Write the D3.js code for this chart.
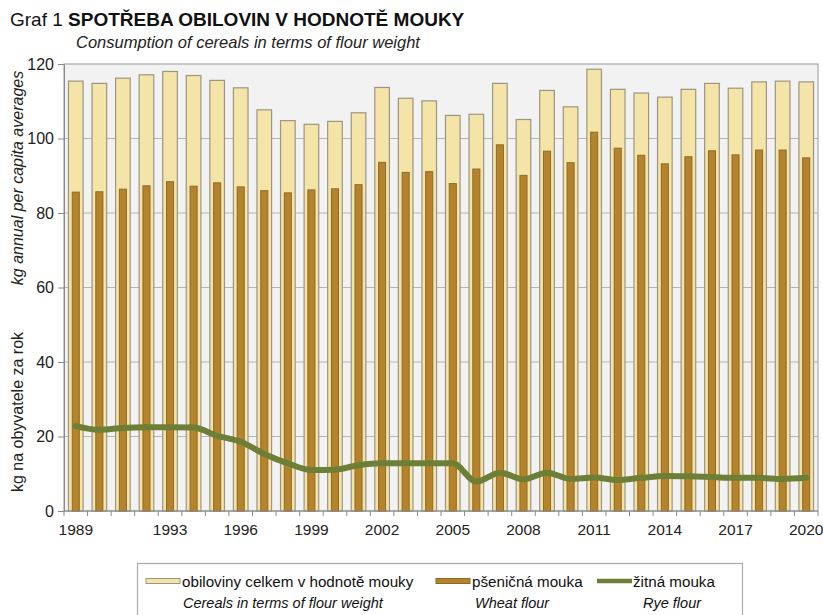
<!DOCTYPE html>
<html>
<head>
<meta charset="utf-8">
<script src="https://cdn.jsdelivr.net/npm/d3@7"></script>
<style>
  body { margin: 0; background: #fff; }
  svg { font-family: "Liberation Sans", Arial, sans-serif; }
</style>
</head>
<body>
<svg id="chart" width="823" height="615"></svg>
<script>
var years = d3.range(1989, 2021);

var cerealsTotal = [115.4, 114.8, 116.2, 117.1, 118.0, 116.9, 115.6, 113.6, 107.7, 104.8, 103.8,
  104.6, 106.9, 113.7, 110.8, 110.1, 106.2, 106.5, 114.8, 105.1, 112.9, 108.5,
  118.6, 113.2, 112.2, 111.1, 113.2, 114.8, 113.5, 115.2, 115.4, 115.2];

var wheatFlour = [85.6, 85.7, 86.4, 87.3, 88.4, 87.2, 88.1, 87.0, 86.0, 85.4, 86.2,
  86.5, 87.6, 93.6, 90.9, 91.1, 87.9, 91.8, 98.3, 90.1, 96.6, 93.5,
  101.7, 97.4, 95.5, 93.2, 95.1, 96.7, 95.6, 96.9, 96.9, 94.8];

var ryeFlour = [22.8, 21.8, 22.3, 22.5, 22.5, 22.4, 20.2, 18.6, 15.3, 12.8, 11.0,
  11.1, 12.3, 12.8, 12.8, 12.8, 12.8, 7.9, 10.3, 8.5, 10.3, 8.6,
  9.0, 8.3, 8.9, 9.4, 9.3, 9.1, 8.9, 8.9, 8.6, 8.9];

var yTicks = [0, 20, 40, 60, 80, 100, 120];
var xLabels = [1989, 1993, 1996, 1999, 2002, 2005, 2008, 2011, 2014, 2017, 2020];

var margin = {top: 64, right: 5, bottom: 104, left: 64},
  width = 823 - margin.left - margin.right,
  height = 615 - margin.top - margin.bottom;

var svg = d3.select("#chart");

var g = svg.append("g")
  .attr("transform", "translate(" + margin.left + "," + margin.top + ")");

var x = d3.scaleBand()
  .domain(years)
  .range([0, width]);

var y = d3.scaleLinear()
  .domain([0, 120])
  .range([height, 0]);

// plot background
g.append("rect")
  .attr("width", width)
  .attr("height", height)
  .attr("fill", "#f2f2f2")
  .attr("stroke", "#a8a8a8")
  .attr("stroke-width", 1.2);

// horizontal grid
g.append("g")
  .selectAll("line")
  .data(yTicks.filter(function(d) { return d > 0 && d < 120; }))
  .join("line")
  .attr("x1", 0)
  .attr("x2", width)
  .attr("y1", function(d) { return y(d); })
  .attr("y2", function(d) { return y(d); })
  .attr("stroke", "#b4b4b4")
  .attr("stroke-width", 1);

// total cereals bars
var lightW = x.bandwidth() * 0.62;
g.append("g")
  .selectAll("rect")
  .data(years)
  .join("rect")
  .attr("x", function(d) { return x(d) + (x.bandwidth() - lightW) / 2; })
  .attr("width", lightW)
  .attr("y", function(d, i) { return y(cerealsTotal[i]); })
  .attr("height", function(d, i) { return height - y(cerealsTotal[i]); })
  .attr("fill", "#f4e4a8")
  .attr("stroke", "#9c9582")
  .attr("stroke-width", 1.2);

// wheat flour bars
var darkW = x.bandwidth() * 0.3;
g.append("g")
  .selectAll("rect")
  .data(years)
  .join("rect")
  .attr("x", function(d) { return x(d) + (x.bandwidth() - darkW) / 2; })
  .attr("width", darkW)
  .attr("y", function(d, i) { return y(wheatFlour[i]); })
  .attr("height", function(d, i) { return height - y(wheatFlour[i]); })
  .attr("fill", "#b5832c")
  .attr("stroke", "#8c6a2a")
  .attr("stroke-width", 1);

// rye flour line
var line = d3.line()
  .x(function(d, i) { return x(years[i]) + x.bandwidth() / 2; })
  .y(function(d) { return y(d); })
  .curve(d3.curveMonotoneX);

g.append("path")
  .datum(ryeFlour)
  .attr("d", line)
  .attr("fill", "none")
  .attr("stroke", "#6d7f37")
  .attr("stroke-width", 6)
  .attr("stroke-linejoin", "round")
  .attr("stroke-linecap", "round");

// y axis
var yAxis = g.append("g")
  .call(d3.axisLeft(y).tickValues(yTicks).tickSize(6).tickPadding(4));
yAxis.select(".domain").attr("stroke", "#8a8a8a");
yAxis.selectAll(".tick line").attr("stroke", "#8a8a8a");
yAxis.selectAll("text")
  .attr("font-size", 16)
  .attr("fill", "#222");

// x axis: ticks between bands, labels on selected years
var xAxis = g.append("g")
  .attr("transform", "translate(0," + height + ")");
xAxis.append("line")
  .attr("x1", 0).attr("x2", width)
  .attr("stroke", "#8a8a8a");
xAxis.selectAll(".xtick")
  .data(years.concat([2021]))
  .join("line")
  .attr("class", "xtick")
  .attr("x1", function(d) { return d === 2021 ? width : x(d); })
  .attr("x2", function(d) { return d === 2021 ? width : x(d); })
  .attr("y1", 0)
  .attr("y2", 5)
  .attr("stroke", "#8a8a8a");
xAxis.selectAll(".xlabel")
  .data(xLabels)
  .join("text")
  .attr("class", "xlabel")
  .attr("x", function(d) { return x(d) + x.bandwidth() / 2; })
  .attr("y", 24)
  .attr("text-anchor", "middle")
  .attr("font-size", 15.5)
  .attr("fill", "#222")
  .text(function(d) { return d; });

// y axis titles
svg.append("text")
  .attr("transform", "translate(23,178) rotate(-90)")
  .attr("text-anchor", "middle")
  .attr("font-size", 16)
  .attr("font-style", "italic")
  .attr("fill", "#222")
  .text("kg annual per capita averages");

svg.append("text")
  .attr("transform", "translate(23,412) rotate(-90)")
  .attr("text-anchor", "middle")
  .attr("font-size", 16)
  .attr("fill", "#222")
  .text("kg na obyvatele za rok");

// titles
var title = svg.append("text")
  .attr("x", 10)
  .attr("y", 26)
  .attr("font-size", 19)
  .attr("fill", "#111");
title.append("tspan").text("Graf 1 ");
title.append("tspan").attr("font-weight", "bold").text("SPOTŘEBA OBILOVIN V HODNOTĚ MOUKY");

svg.append("text")
  .attr("x", 76)
  .attr("y", 48)
  .attr("font-size", 16.5)
  .attr("font-style", "italic")
  .attr("fill", "#222")
  .text("Consumption of cereals in terms of flour weight");

// legend
var legend = svg.append("g");
legend.append("rect")
  .attr("x", 137.5)
  .attr("y", 563.5)
  .attr("width", 605)
  .attr("height", 60)
  .attr("fill", "#fff")
  .attr("stroke", "#aaa")
  .attr("stroke-width", 1.2);

var legendItems = [
  {cz: "obiloviny celkem v hodnotě mouky", en: "Cereals in terms of flour weight", x: 146, enX: 183, type: "light"},
  {cz: "pšeničná mouka", en: "Wheat flour", x: 436, enX: 475, type: "dark"},
  {cz: "žitná mouka", en: "Rye flour", x: 597, enX: 643, type: "line"}
];

legendItems.forEach(function(d) {
  if (d.type === "line") {
    legend.append("line")
      .attr("x1", d.x).attr("x2", d.x + 35)
      .attr("y1", 581).attr("y2", 581)
      .attr("stroke", "#6d7f37")
      .attr("stroke-width", 4.5);
  } else {
    legend.append("rect")
      .attr("x", d.x).attr("y", 578.5)
      .attr("width", 34).attr("height", 5)
      .attr("fill", d.type === "light" ? "#f4e4a8" : "#b5832c")
      .attr("stroke", d.type === "light" ? "#9c9582" : "#8c6a2a")
      .attr("stroke-width", 1);
  }
  legend.append("text")
    .attr("x", d.x + 36)
    .attr("y", 587)
    .attr("font-size", 15.2)
    .attr("fill", "#111")
    .text(d.cz);
  legend.append("text")
    .attr("x", d.enX)
    .attr("y", 608)
    .attr("font-size", 14.5)
    .attr("font-style", "italic")
    .attr("fill", "#111")
    .text(d.en);
});
</script>
</body>
</html>
